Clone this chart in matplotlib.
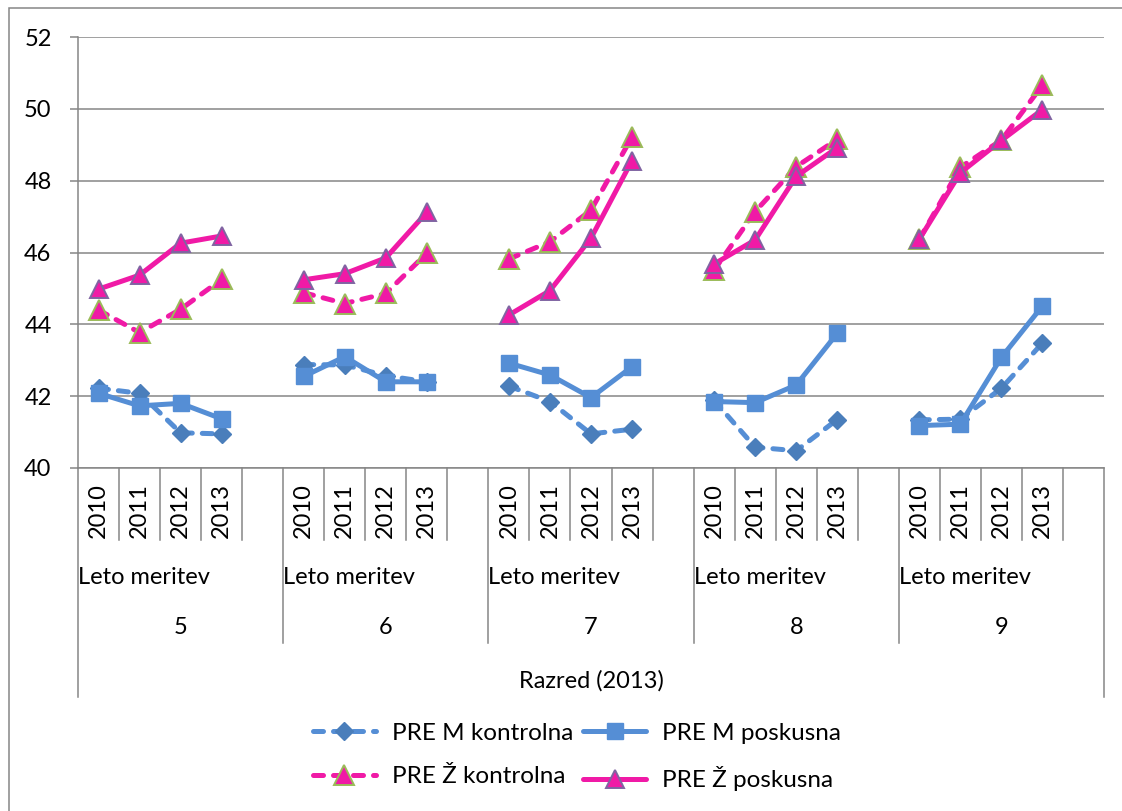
import numpy as np
import matplotlib
matplotlib.use('Agg')
import matplotlib.pyplot as plt
from matplotlib.patches import Rectangle

plt.rcParams['font.family'] = ['Lato', 'DejaVu Sans']

# categories
razredi = ['5', '6', '7', '8', '9']
leta = ['2010', '2011', '2012', '2013']

# values per razred (2010..2013)
m_kontrolna = [42.22, 42.08, 40.98, 40.95,
               42.88, 42.87, 42.57, 42.40,
               42.28, 41.85, 40.95, 41.08,
               41.88, 40.58, 40.48, 41.35,
               41.34, 41.36, 42.22, 43.48]
m_poskusna = [42.08, 41.73, 41.80, 41.37,
              42.55, 43.10, 42.40, 42.40,
              42.92, 42.59, 41.96, 42.82,
              41.85, 41.82, 42.31, 43.75,
              41.18, 41.22, 43.08, 44.51]
z_kontrolna = [44.40, 43.77, 44.42, 45.25,
               44.88, 44.58, 44.86, 45.98,
               45.82, 46.30, 47.18, 49.22,
               45.51, 47.14, 48.39, 49.15,
               46.37, 48.37, 49.13, 50.66]
z_poskusna = [44.98, 45.37, 46.26, 46.46,
              45.24, 45.41, 45.85, 47.12,
              44.26, 44.94, 46.40, 48.56,
              45.68, 46.35, 48.12, 48.92,
              46.37, 48.22, 49.12, 49.98]

W, H = 1122, 811
FS = 17
fig = plt.figure(figsize=(W / 100, H / 100), dpi=100)
ax = fig.add_axes([78 / W, 1 - 468 / H, 1026 / W, 431 / H])

GRAY = '#868686'
BLUE = '#558ED5'
BLUE_D = '#4A7EBB'
PINK = '#F01AA6'

# chart-area border (cut off on right/bottom in the original)
fig.patches.append(Rectangle((9 / W, -0.1), 1.2, 1 - 8 / H + 0.1, transform=fig.transFigure,
                             fill=False, edgecolor=GRAY, linewidth=1.1))

# x positions: 5 slots per razred, last slot empty (breaks the lines)
n_slot = len(leta) + 1
x = []
for g in range(len(razredi)):
    for k in range(n_slot):
        x.append(g * n_slot + k + 0.5)
x = np.array(x)


def spread(vals):
    out = []
    for g in range(len(razredi)):
        out += vals[g * 4:(g + 1) * 4] + [np.nan]
    return np.array(out)


lw = 3.6
dash = (2.0, 2.0)
ax.plot(x, spread(m_kontrolna), color=BLUE, lw=lw, dashes=dash, dash_capstyle='round',
        marker='D', ms=9.5, mfc=BLUE_D, mec=BLUE_D, label='PRE M kontrolna')
ax.plot(x, spread(m_poskusna), color=BLUE, lw=lw, solid_capstyle='round',
        marker='s', ms=11, mfc=BLUE, mec=BLUE, label='PRE M poskusna')
ax.plot(x, spread(z_kontrolna), color=PINK, lw=lw, dashes=dash, dash_capstyle='round',
        marker='^', ms=14, mfc=PINK, mec='#9BBB59', mew=1.4, label='PRE Ž kontrolna')
ax.plot(x, spread(z_poskusna), color=PINK, lw=lw, solid_capstyle='round',
        marker='^', ms=13, mfc=PINK, mec='#8064A2', mew=1.4, label='PRE Ž poskusna')

ax.set_xlim(0, len(razredi) * n_slot)
ax.set_ylim(40, 52)
ax.set_yticks(np.arange(40, 53, 2))
ax.set_xticks([])
ax.grid(axis='y', color=GRAY, lw=1.1)
ax.set_axisbelow(True)
for s in ['top', 'right']:
    ax.spines[s].set_visible(False)
for s in ['left', 'bottom']:
    ax.spines[s].set_color(GRAY)
    ax.spines[s].set_linewidth(1.1)
ax.tick_params(axis='y', length=6, color=GRAY, width=1.1, pad=13, labelsize=FS)

# multi-level category axis
tr = ax.get_xaxis_transform()


def ay(py):
    return (468 - py) / 431


for g, r in enumerate(razredi):
    x0 = g * n_slot
    for k, leto in enumerate(leta):
        ax.text(x0 + k + 0.5, ay(511), leto, transform=tr, rotation=90,
                ha='center', va='center', fontsize=FS)
        ax.plot([x0 + k + 1] * 2, [0, ay(540)], transform=tr, color=GRAY, lw=1.1, clip_on=False)
    ax.text(x0 + 0.0, ay(578), 'Leto meritev', transform=tr, ha='left', va='center', fontsize=FS)
    ax.text(x0 + n_slot / 2, ay(628), r, transform=tr, ha='center', va='center', fontsize=FS)
    ax.plot([x0] * 2, [0, ay(697) if g == 0 else ay(643)], transform=tr, color=GRAY, lw=1.1, clip_on=False)
x_end = len(razredi) * n_slot
ax.plot([x_end] * 2, [0, ay(697)], transform=tr, color=GRAY, lw=1.1, clip_on=False)
ax.text(x_end / 2, ay(681), 'Razred (2013)', transform=tr, ha='center', va='center', fontsize=FS)

h, l = ax.get_legend_handles_labels()
order = [0, 2, 1, 3]
fig.legend([h[i] for i in order], [l[i] for i in order], ncol=2, loc='center',
           bbox_to_anchor=(577 / W, 1 - 757 / H), frameon=False, fontsize=17.5,
           numpoints=1, handlelength=2.6, handletextpad=0.66, columnspacing=0.41,
           labelspacing=0.93, borderpad=0)

fig.savefig('out.png', dpi=100, facecolor='white')
